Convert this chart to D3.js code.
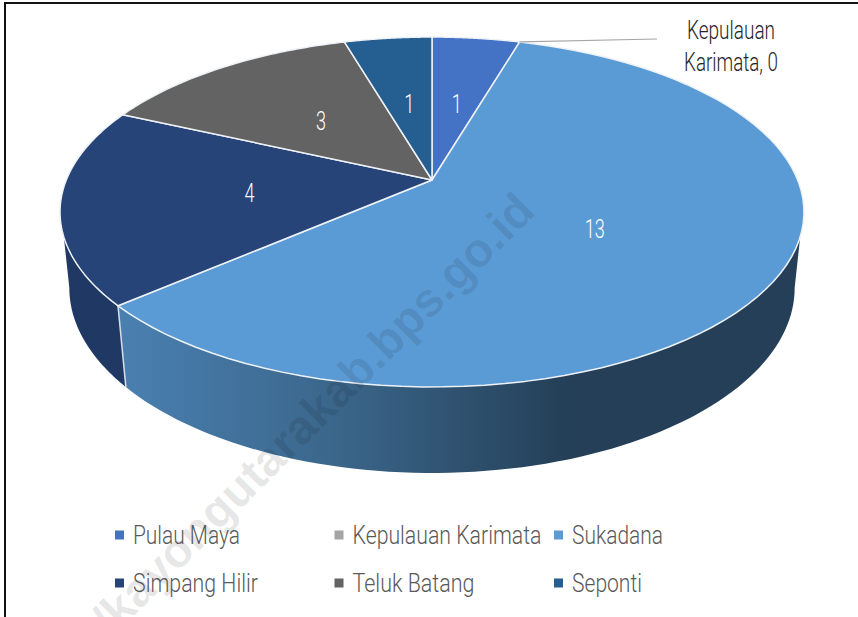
<!DOCTYPE html>
<html>
<head>
<meta charset="utf-8">
<script src="https://cdn.jsdelivr.net/npm/d3@7"></script>
<style>
  html, body { margin: 0; padding: 0; background: #fff; }
  svg { display: block; }
  text { font-family: Roboto, "Liberation Sans", sans-serif; font-weight: 300; }
</style>
</head>
<body>
<svg width="858" height="617"></svg>
<script>
const categories = ["Pulau Maya", "Kepulauan Karimata", "Sukadana", "Simpang Hilir", "Teluk Batang", "Seponti"];
const values = [1, 0, 13, 4, 3, 1];
const colors = ["#4472c4", "#a5a5a5", "#5b9bd5", "#264478", "#636363", "#255e91"];
const sideColors = ["#2f5597", "#7f7f7f", "url(#sideFade)", "#1f3864", "#4d4d4d", "#1c4770"];
const legendTextWidths = [107, 189, 91, 125, 122, 70];
const watermarkText = "/kayongutarakab.bps.go.id";

const svg = d3.select("svg");

const apexX = 432, apexY = 180;
const radiusX = 365.7, radiusY = 169.1, tilt = 0.1829;

// Tilted disc: circle angle to screen position, nearer edge drawn bigger
const topRim = (angle, r = 1) => {
    const u = r * Math.sin(angle), v = -r * Math.cos(angle);
    const w = 1 - tilt * v;
    return [apexX + radiusX * u / w, apexY + radiusY * v / w];
};

const bottomRim = angle => {
    const [x, y] = topRim(angle);
    return [apexX + 0.975 * (x - apexX), 473 - 1.058 * (387 - y)];
};

const arcPoints = (rim, from, to) => d3.range(0, 81).map(i => rim(from + (to - from) * i / 80));
const line = d3.line();

/**
 * Add a label squeezed to a given width, the reference font is very condensed
 * @param  {string} label text to draw
 * @param  {number} x     left edge, or middle if anchor is "middle"
 * @param  {number} y     vertical centre of the text
 * @param  {number} width wanted width in pixels
 * @return {selection}    the new text element
 */
const fitText = (label, x, y, width, anchor = "start") => {
    const t = svg.append("text")
        .attr("dy", "0.36em")
        .attr("text-anchor", anchor)
        .text(label);
    t.fit = size => {
        t.attr("font-size", size);
        const k = width / t.node().getComputedTextLength();
        t.attr("transform", `translate(${x},${y}) scale(${k},1)`);
        return t;
    };
    return t;
};

const pie = d3.pie().value(d => d).sort(null);
const slices = pie(values);

// Angles where the wall of the disc leaves the outline
const wallTop = [108.5, 251.5].map(d => d * Math.PI / 180);
const wallBottom = [100.5, 259.5].map(d => d * Math.PI / 180);

const defs = svg.append("defs");
const fade = defs.append("linearGradient")
    .attr("id", "sideFade")
    .attr("gradientUnits", "userSpaceOnUse")
    .attr("x1", 117).attr("x2", 570).attr("y1", 0).attr("y2", 0);
fade.append("stop").attr("offset", 0).attr("stop-color", "#4a80b1");
fade.append("stop").attr("offset", 0.5).attr("stop-color", "#3a6589");
fade.append("stop").attr("offset", 1).attr("stop-color", "#243f57");

// Frame
svg.append("path")
    .attr("d", line([[5, 617], [5, 3], [858, 3]]))
    .attr("fill", "none")
    .attr("stroke", "#111")
    .attr("stroke-width", 2);

// Walls, only the slices that face the viewer
slices.forEach((s, i) => {
    const a0 = Math.max(s.startAngle, wallTop[0]);
    const a1 = Math.min(s.endAngle, wallTop[1]);
    if (a1 <= a0) return;
    const b0 = Math.max(s.startAngle, wallBottom[0]);
    const b1 = Math.min(s.endAngle, wallBottom[1]);
    const pts = arcPoints(topRim, a0, a1).concat(arcPoints(bottomRim, b1, b0));
    svg.append("path")
        .attr("d", line(pts) + "Z")
        .attr("fill", sideColors[i]);
});

// Seam between the two visible walls
const seam = slices[2].endAngle;
svg.append("path")
    .attr("d", line([topRim(seam), bottomRim(seam)]))
    .attr("stroke", "#d9dee6")
    .attr("stroke-width", 1.5);

// Top face
slices.forEach((s, i) => {
    if (s.value === 0) return;
    const pts = [[apexX, apexY]].concat(arcPoints(topRim, s.startAngle, s.endAngle));
    svg.append("path")
        .attr("d", line(pts) + "Z")
        .attr("fill", colors[i])
        .attr("stroke", "#eef2f7")
        .attr("stroke-width", 1.5)
        .attr("stroke-linejoin", "round");
});

// Watermark sits under the texts
svg.append("text")
    .attr("transform", "translate(537,213) rotate(-45)")
    .attr("text-anchor", "end")
    .attr("font-size", 47.5)
    .attr("fill", "#000")
    .attr("fill-opacity", 0.1)
    .style("font-family", "'Liberation Sans', Arial, sans-serif")
    .style("font-weight", 700)
    .text(watermarkText);

// Value labels
slices.forEach((s, i) => {
    if (s.value === 0) return;
    const [x, y] = topRim((s.startAngle + s.endAngle) / 2, 0.5);
    fitText(s.value, x + 1, y + 1, String(s.value).length * 10, "middle")
        .attr("fill", "#fff")
        .fit(25);
});

// Leader and outside label for the empty slice
const zero = slices[1];
svg.append("path")
    .attr("d", line([topRim(zero.startAngle), [657, 39]]))
    .attr("fill", "none")
    .attr("stroke", "#a6a6a6")
    .attr("stroke-width", 1.2);

[["Kepulauan", 30, 88], [`Karimata, ${values[1]}`, 62, 94]].forEach(([t, y, w]) => {
    fitText(t, 731, y, w, "middle")
        .attr("fill", "#262626")
        .fit(25);
});

// Legend
const legendX = d3.scalePoint().domain([0, 1, 2]).range([115, 554]);
const legendY = d3.scalePoint().domain([0, 1]).range([535, 583]);
categories.forEach((c, i) => {
    const x = legendX(i % 3), y = legendY(Math.floor(i / 3));
    svg.append("rect")
        .attr("x", x).attr("y", y - 4.5)
        .attr("width", 9).attr("height", 9)
        .attr("fill", colors[i]);
    fitText(c, x + 18, y, legendTextWidths[i])
        .attr("fill", "#595959")
        .fit(26);
});
</script>
</body>
</html>
